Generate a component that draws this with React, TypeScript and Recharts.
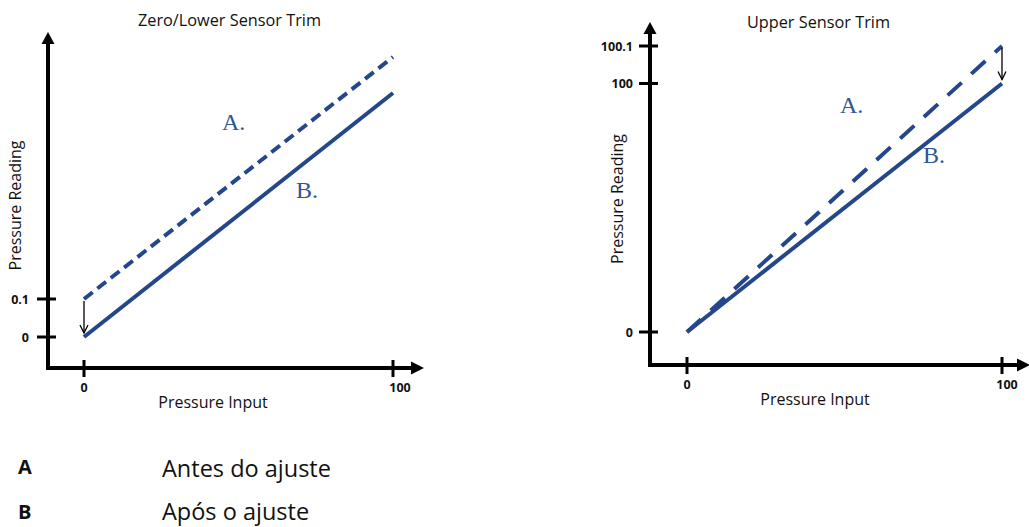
import React from 'react';
import { LineChart, Line, XAxis, YAxis, ReferenceLine } from 'recharts';

// Pressure input at both ends of every trim line
const INPUT = [0, 100];

// Zero/lower sensor trim: reading before (A) and after (B) the trim
const LOWER_BEFORE = [0.1, 100.1];
const LOWER_AFTER = [0, 100];

// Upper sensor trim: reading before (A) and after (B) the trim
const UPPER_BEFORE = [0, 100.1];
const UPPER_AFTER = [0, 100];

// Tick labels
const X_TICKS = [0, 100];
const LOWER_Y_TICKS = [0, 0.1];
const UPPER_Y_TICKS = [0, 100, 100.1];

// Legend
const LEGEND_KEYS = ['A', 'B'];
const LEGEND_TEXT = ['Antes do ajuste', 'Após o ajuste'];

const LINE_COLOR = '#23478a';
const NOTE_COLOR = '#2e5597';
const SANS = '"Open Sans", "Noto Sans", sans-serif';
const SERIF = '"Liberation Serif", "DejaVu Serif", serif';

// Piecewise-linear reading scale: the 0.1 offsets at the ends of the
// range get a stretch of their own so the trim shift stays visible.
function brokenScale(stops: number[], spans: number[]): any {
  let domain = [stops[0], stops[stops.length - 1]];
  let range = [0, 1];
  const scale: any = (v: number) => {
    let i = 0;
    while (i < stops.length - 2 && v > stops[i + 1]) i++;
    const t =
      spans[i] + ((v - stops[i]) / (stops[i + 1] - stops[i])) * (spans[i + 1] - spans[i]);
    return range[0] + t * (range[range.length - 1] - range[0]);
  };
  scale.domain = (d?: number[]) => {
    if (d === undefined) return domain.slice();
    domain = Array.from(d);
    return scale;
  };
  scale.range = (r?: number[]) => {
    if (r === undefined) return range.slice();
    range = Array.from(r);
    return scale;
  };
  scale.copy = () => brokenScale(stops, spans).domain(domain).range(range);
  scale.ticks = () => stops.slice();
  return scale;
}

const lowerScale = brokenScale([0, 0.1, 100, 100.1], [0, 38 / 280, 244 / 280, 1]);
const upperScale = brokenScale([0, 100, 100.1], [0, 248.5 / 286, 1]);

const lowerData = INPUT.map((input, i) => ({
  input,
  before: LOWER_BEFORE[i],
  after: LOWER_AFTER[i],
}));
const upperData = INPUT.map((input, i) => ({
  input,
  before: UPPER_BEFORE[i],
  after: UPPER_AFTER[i],
}));

const makeYTick = (labelGap: number) => (props: any) => {
  const { x, y, payload } = props;
  return (
    <g>
      <line x1={x - 11} x2={x + 8} y1={y} y2={y} stroke="#000" strokeWidth={3} />
      <text
        x={x - labelGap}
        y={y}
        textAnchor="end"
        dominantBaseline="central"
        fontFamily={SANS}
        fontWeight={700}
        fontSize={12.5}
        fill="#111"
      >
        {payload.value}
      </text>
    </g>
  );
};

const makeXTick = (lastShift: number) => (props: any) => {
  const { x, y, payload, index } = props;
  const dx = index === X_TICKS.length - 1 ? lastShift : 0;
  return (
    <g>
      <line x1={x} x2={x} y1={y - 8} y2={y + 9} stroke="#000" strokeWidth={3} />
      <text
        x={x + dx}
        y={y + 19}
        textAnchor="middle"
        dominantBaseline="central"
        fontFamily={SANS}
        fontWeight={700}
        fontSize={12.5}
        fill="#111"
      >
        {payload.value}
      </text>
    </g>
  );
};

// Horizontal axis decoration: arrowhead at the far end plus the title
const xAxisTitle = (title: string) => (props: any) => {
  const { x, y, width } = props.viewBox;
  const end = x + width;
  return (
    <g>
      <path d={`M${end + 12},${y} L${end - 1},${y - 6.5} L${end - 1},${y + 6.5} Z`} fill="#000" />
      <text
        x={x + 165}
        y={y + 39.5}
        textAnchor="middle"
        fontFamily={SANS}
        fontSize={16}
        fill="#111"
      >
        {title}
      </text>
    </g>
  );
};

// Vertical axis decoration: arrowhead at the top plus the rotated title
const yAxisTitle = (title: string) => (props: any) => {
  const { x, y, width, height } = props.viewBox;
  const axisX = x + width;
  const tx = axisX - 27;
  const ty = y + height / 2;
  return (
    <g>
      <path d={`M${axisX},${y - 11} L${axisX - 6.5},${y + 1} L${axisX + 6.5},${y + 1} Z`} fill="#000" />
      <text
        x={tx}
        y={ty}
        transform={`rotate(-90 ${tx} ${ty})`}
        textAnchor="middle"
        fontFamily={SANS}
        fontSize={16}
        fill="#111"
      >
        {title}
      </text>
    </g>
  );
};

// Thin arrow showing the trim correction between the two readings
const trimArrow = (props: any) => {
  const { x1, y1, x2, y2 } = props;
  const top = Math.min(y1, y2) + 2;
  const tip = Math.max(y1, y2) - 4;
  return (
    <g>
      <line x1={x1} x2={x2} y1={top} y2={tip} stroke="#000" strokeWidth={1.3} />
      <path
        d={`M${x1 - 4},${tip - 8} L${x1},${tip} L${x1 + 4},${tip - 8}`}
        fill="none"
        stroke="#000"
        strokeWidth={1.3}
      />
    </g>
  );
};

type TrimProps = {
  data: any[];
  width: number;
  height: number;
  margin: any;
  yAxisWidth: number;
  xAxisHeight: number;
  xPadding: any;
  yPadding: any;
  yScale: any;
  yTicks: number[];
  yLabelGap: number;
  xLastShift: number;
  dash: string;
  arrowX: number;
  arrowFrom: number;
  arrowTo: number;
};

function TrimChart(p: TrimProps) {
  const yMax = Math.max(...p.data.map((d) => Math.max(d.before, d.after)));
  return (
    <LineChart width={p.width} height={p.height} data={p.data} margin={p.margin}>
      <XAxis
        dataKey="input"
        type="number"
        domain={[X_TICKS[0], X_TICKS[X_TICKS.length - 1]]}
        ticks={X_TICKS}
        interval={0}
        height={p.xAxisHeight}
        padding={p.xPadding}
        axisLine={{ stroke: '#000', strokeWidth: 4, strokeLinecap: 'square' }}
        tickLine={false}
        tickSize={0}
        tickMargin={0}
        tick={makeXTick(p.xLastShift)}
        label={{ content: xAxisTitle('Pressure Input') }}
      />
      <YAxis
        type="number"
        scale={p.yScale}
        domain={[0, yMax]}
        ticks={p.yTicks}
        interval={0}
        width={p.yAxisWidth}
        padding={p.yPadding}
        axisLine={{ stroke: '#000', strokeWidth: 4, strokeLinecap: 'square' }}
        tickLine={false}
        tickSize={0}
        tickMargin={0}
        tick={makeYTick(p.yLabelGap)}
        label={{ content: yAxisTitle('Pressure Reading') }}
      />
      <Line
        dataKey="after"
        type="linear"
        stroke={LINE_COLOR}
        strokeWidth={4}
        dot={false}
        activeDot={false}
        isAnimationActive={false}
      />
      <Line
        dataKey="before"
        type="linear"
        stroke={LINE_COLOR}
        strokeWidth={4}
        strokeDasharray={p.dash}
        dot={false}
        activeDot={false}
        isAnimationActive={false}
      />
      <ReferenceLine
        segment={[
          { x: p.arrowX, y: p.arrowFrom },
          { x: p.arrowX, y: p.arrowTo },
        ]}
        shape={trimArrow}
      />
    </LineChart>
  );
}

export default function App() {
  return (
    <div
      style={{
        position: 'absolute',
        left: 0,
        top: 0,
        width: 1029,
        height: 527,
        background: '#fff',
        overflow: 'hidden',
      }}
    >
      <div style={{ position: 'absolute', left: 0, top: 0 }}>
        <TrimChart
          data={lowerData}
          width={440}
          height={420}
          margin={{ top: 43, right: 28, bottom: 0, left: 0 }}
          yAxisWidth={48}
          xAxisHeight={52}
          xPadding={{ left: 36, right: 19 }}
          yPadding={{ top: 14, bottom: 31 }}
          yScale={lowerScale}
          yTicks={LOWER_Y_TICKS}
          yLabelGap={19}
          xLastShift={7}
          dash="11 6"
          arrowX={INPUT[0]}
          arrowFrom={LOWER_BEFORE[0]}
          arrowTo={LOWER_AFTER[0]}
        />
      </div>
      <div style={{ position: 'absolute', left: 590, top: 0 }}>
        <TrimChart
          data={upperData}
          width={439}
          height={420}
          margin={{ top: 33, right: 11, bottom: 0, left: 0 }}
          yAxisWidth={60}
          xAxisHeight={55}
          xPadding={{ left: 37, right: 16 }}
          yPadding={{ top: 13, bottom: 33 }}
          yScale={upperScale}
          yTicks={UPPER_Y_TICKS}
          yLabelGap={17}
          xLastShift={5}
          dash="19 13"
          arrowX={INPUT[1]}
          arrowFrom={UPPER_BEFORE[1]}
          arrowTo={UPPER_AFTER[1]}
        />
      </div>
      <svg
        width={1029}
        height={527}
        style={{ position: 'absolute', left: 0, top: 0, pointerEvents: 'none' }}
      >
        <g fontFamily={SANS} fontSize={16.3} fill="#111" textAnchor="middle">
          <text x={229.5} y={26}>Zero/Lower Sensor Trim</text>
          <text x={818.5} y={28}>Upper Sensor Trim</text>
        </g>
        <g fontFamily={SERIF} fontSize={24} fill={NOTE_COLOR}>
          <text x={222} y={130}>A.</text>
          <text x={296} y={198}>B.</text>
          <text x={840} y={113}>A.</text>
          <text x={923} y={163}>B.</text>
        </g>
        {LEGEND_KEYS.map((key, i) => (
          <g key={key}>
            <text x={18} y={474 + i * 45} fontFamily={SANS} fontWeight={700} fontSize={20} fill="#111">
              {key}
            </text>
            <text x={162} y={477 + i * 43} fontFamily={SANS} fontSize={23.5} fill="#111">
              {LEGEND_TEXT[i]}
            </text>
          </g>
        ))}
      </svg>
    </div>
  );
}
